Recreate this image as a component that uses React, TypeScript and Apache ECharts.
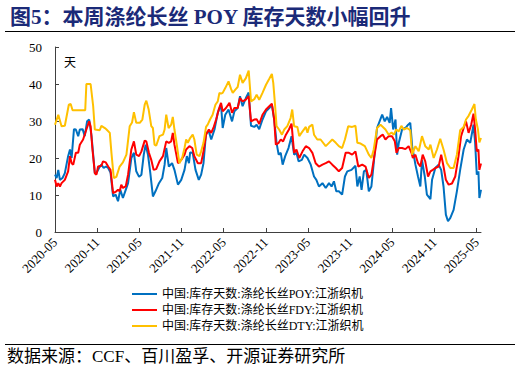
import { useEffect, useRef } from 'react';
import * as echarts from 'echarts';

const titleText = '图5：本周涤纶长丝 POY 库存天数小幅回升';
const sourceText = '数据来源：CCF、百川盈孚、开源证券研究所';
const unitText = '天';

const xTickLabels = ['2020-05', '2020-11', '2021-05', '2021-11', '2022-05', '2022-11', '2023-05', '2023-11', '2024-05', '2024-11', '2025-05'];
const yMin = 0;
const yMax = 50;
const yInterval = 10;

const seriesNames = [
  '中国:库存天数:涤纶长丝POY:江浙织机',
  '中国:库存天数:涤纶长丝FDY:江浙织机',
  '中国:库存天数:涤纶长丝DTY:江浙织机',
];
const seriesColors = ['#0070C0', '#FF0000', '#FFC000'];

const poy: [string, number][] = [
  ['2020-05-01', 15.5], ['2020-05-08', 14.6], ['2020-05-15', 16.8], ['2020-05-22', 14.1], ['2020-06-03', 14.6],
  ['2020-06-13', 15.9], ['2020-06-27', 20.5], ['2020-07-05', 22.3], ['2020-07-12', 20.0], ['2020-07-22', 27.8],
  ['2020-07-30', 27.7], ['2020-08-10', 25.9], ['2020-08-17', 27.7], ['2020-08-29', 27.8], ['2020-09-08', 25.9],
  ['2020-09-18', 29.9], ['2020-09-27', 30.4], ['2020-10-07', 25.9], ['2020-10-21', 15.9], ['2020-10-28', 15.9],
  ['2020-11-09', 17.3], ['2020-11-19', 18.2], ['2020-11-29', 17.3], ['2020-12-08', 17.7], ['2020-12-18', 17.3],
  ['2020-12-28', 16.1], ['2021-01-09', 9.6], ['2021-01-20', 10.1], ['2021-01-30', 8.3], ['2021-02-10', 11.4],
  ['2021-02-21', 9.2], ['2021-03-03', 11.4], ['2021-03-13', 13.2], ['2021-03-27', 20.0], ['2021-04-08', 21.4],
  ['2021-04-18', 16.4], ['2021-04-30', 14.9], ['2021-05-10', 15.5], ['2021-05-20', 20.9], ['2021-05-28', 23.6],
  ['2021-06-08', 20.9], ['2021-06-18', 15.9], ['2021-06-29', 9.6], ['2021-07-10', 11.0], ['2021-07-25', 13.2],
  ['2021-08-09', 14.6], ['2021-08-19', 18.2], ['2021-08-26', 22.7], ['2021-09-07', 17.7], ['2021-09-21', 18.6],
  ['2021-10-01', 16.8], ['2021-10-16', 12.8], ['2021-10-30', 14.1], ['2021-11-14', 16.8], ['2021-11-24', 20.5],
  ['2021-12-03', 18.6], ['2021-12-08', 21.5], ['2021-12-19', 21.4], ['2022-01-01', 16.8], ['2022-01-15', 14.1],
  ['2022-01-25', 15.5], ['2022-02-05', 18.6], ['2022-02-16', 26.8], ['2022-02-28', 27.2], ['2022-03-08', 25.0],
  ['2022-03-22', 27.7], ['2022-04-06', 32.2], ['2022-04-20', 34.4], ['2022-04-27', 28.1], ['2022-05-08', 31.7],
  ['2022-05-22', 33.1], ['2022-06-07', 29.9], ['2022-06-17', 32.6], ['2022-07-01', 33.5], ['2022-07-11', 36.7],
  ['2022-07-22', 34.0], ['2022-08-06', 36.2], ['2022-08-18', 37.7], ['2022-08-28', 28.7], ['2022-09-12', 28.4],
  ['2022-09-22', 29.0], ['2022-10-03', 27.8], ['2022-10-17', 30.4], ['2022-11-02', 32.6], ['2022-11-16', 33.5],
  ['2022-11-27', 34.4], ['2022-12-07', 30.4], ['2022-12-17', 24.1], ['2022-12-26', 20.9], ['2023-01-05', 21.4],
  ['2023-01-13', 18.2], ['2023-01-24', 20.5], ['2023-02-08', 22.7], ['2023-02-21', 25.9], ['2023-03-02', 20.9],
  ['2023-03-12', 21.4], ['2023-03-21', 19.1], ['2023-04-05', 19.5], ['2023-04-15', 20.9], ['2023-04-29', 20.0],
  ['2023-05-13', 18.2], ['2023-05-27', 15.0], ['2023-06-07', 14.1], ['2023-06-18', 12.3], ['2023-07-03', 13.2],
  ['2023-07-17', 11.9], ['2023-08-01', 13.2], ['2023-08-12', 12.3], ['2023-08-22', 13.7], ['2023-09-02', 11.0],
  ['2023-09-13', 11.0], ['2023-09-27', 10.1], ['2023-10-09', 15.0], ['2023-10-19', 16.4], ['2023-11-07', 16.8],
  ['2023-11-24', 17.9], ['2023-12-02', 12.3], ['2023-12-12', 15.0], ['2023-12-20', 11.4], ['2023-12-30', 16.4],
  ['2024-01-10', 16.8], ['2024-01-21', 11.0], ['2024-02-02', 12.3], ['2024-02-12', 18.6], ['2024-02-26', 28.1],
  ['2024-03-07', 29.9], ['2024-03-18', 31.7], ['2024-03-29', 29.9], ['2024-04-09', 31.1], ['2024-04-20', 29.5],
  ['2024-04-26', 33.5], ['2024-05-05', 27.7], ['2024-05-15', 30.4], ['2024-05-22', 20.9], ['2024-05-29', 24.1],
  ['2024-06-13', 27.7], ['2024-06-27', 28.1], ['2024-07-09', 29.0], ['2024-07-18', 29.5], ['2024-07-26', 23.2],
  ['2024-08-10', 18.2], ['2024-08-21', 15.0], ['2024-09-01', 12.3], ['2024-09-08', 19.5], ['2024-09-20', 15.0],
  ['2024-09-29', 10.1], ['2024-10-14', 8.9], ['2024-10-21', 14.1], ['2024-11-05', 17.3], ['2024-11-19', 18.2],
  ['2024-11-30', 16.8], ['2024-12-10', 12.3], ['2024-12-20', 4.7], ['2024-12-29', 2.9], ['2025-01-09', 3.8],
  ['2025-01-23', 6.0], ['2025-02-07', 11.0], ['2025-02-21', 16.8], ['2025-03-06', 22.3], ['2025-03-20', 25.0],
  ['2025-04-04', 24.1], ['2025-04-18', 29.0], ['2025-04-25', 24.1], ['2025-05-02', 15.5], ['2025-05-09', 16.4],
  ['2025-05-13', 9.2], ['2025-05-20', 11.4],
];

const fdy: [string, number][] = [
  ['2020-05-01', 14.1], ['2020-05-08', 12.3], ['2020-05-15', 13.2], ['2020-05-22', 12.3], ['2020-05-29', 13.2],
  ['2020-06-13', 14.1], ['2020-06-27', 16.4], ['2020-07-05', 20.5], ['2020-07-12', 18.6], ['2020-07-19', 18.2],
  ['2020-07-30', 21.4], ['2020-08-10', 21.4], ['2020-08-17', 23.6], ['2020-09-01', 25.0], ['2020-09-15', 27.7],
  ['2020-09-27', 29.9], ['2020-10-03', 28.6], ['2020-10-11', 22.3], ['2020-10-21', 15.9], ['2020-10-28', 15.5],
  ['2020-11-05', 17.7], ['2020-11-19', 17.9], ['2020-11-26', 19.1], ['2020-12-08', 18.8], ['2020-12-18', 17.7],
  ['2020-12-28', 16.8], ['2021-01-09', 10.5], ['2021-01-23', 11.0], ['2021-01-30', 11.4], ['2021-02-07', 11.0],
  ['2021-02-14', 12.8], ['2021-02-21', 11.9], ['2021-03-03', 12.3], ['2021-03-13', 15.5], ['2021-03-27', 22.3],
  ['2021-04-08', 24.5], ['2021-04-18', 20.9], ['2021-04-30', 20.5], ['2021-05-10', 21.8], ['2021-05-24', 24.7],
  ['2021-06-01', 24.5], ['2021-06-12', 21.4], ['2021-06-22', 19.5], ['2021-07-02', 16.8], ['2021-07-13', 17.0],
  ['2021-07-27', 19.1], ['2021-08-12', 20.5], ['2021-08-26', 24.5], ['2021-09-07', 24.1], ['2021-09-17', 24.5],
  ['2021-09-24', 26.8], ['2021-10-01', 23.6], ['2021-10-16', 18.6], ['2021-10-30', 19.5], ['2021-11-14', 20.9],
  ['2021-11-21', 22.3], ['2021-12-05', 23.2], ['2021-12-17', 22.7], ['2021-12-26', 20.5], ['2022-01-11', 18.6],
  ['2022-01-25', 18.6], ['2022-02-05', 21.8], ['2022-02-16', 26.3], ['2022-02-28', 27.7], ['2022-03-08', 26.8],
  ['2022-03-19', 28.4], ['2022-03-29', 30.4], ['2022-04-10', 33.1], ['2022-04-20', 34.9], ['2022-04-27', 32.6],
  ['2022-05-11', 33.5], ['2022-05-26', 34.9], ['2022-06-07', 32.2], ['2022-06-17', 33.5], ['2022-07-01', 33.5],
  ['2022-07-11', 36.2], ['2022-07-22', 35.3], ['2022-08-06', 35.8], ['2022-08-18', 36.7], ['2022-08-28', 29.9],
  ['2022-09-12', 30.4], ['2022-09-22', 30.5], ['2022-10-03', 29.2], ['2022-10-17', 31.7], ['2022-11-02', 33.1],
  ['2022-11-16', 34.0], ['2022-11-27', 34.7], ['2022-12-07', 30.4], ['2022-12-14', 23.6], ['2022-12-26', 24.1],
  ['2023-01-05', 25.0], ['2023-01-15', 24.5], ['2023-01-27', 26.3], ['2023-02-10', 27.7], ['2023-02-21', 29.3],
  ['2023-03-02', 21.4], ['2023-03-12', 22.3], ['2023-03-24', 20.0], ['2023-04-08', 21.8], ['2023-04-22', 23.2],
  ['2023-05-06', 22.7], ['2023-05-20', 21.4], ['2023-06-04', 18.6], ['2023-06-18', 17.7], ['2023-07-03', 18.2],
  ['2023-07-17', 18.6], ['2023-08-01', 19.1], ['2023-08-15', 18.2], ['2023-08-30', 17.3], ['2023-09-13', 16.4],
  ['2023-09-27', 17.3], ['2023-10-12', 21.4], ['2023-10-26', 21.4], ['2023-11-10', 20.9], ['2023-11-24', 21.8],
  ['2023-12-06', 17.7], ['2023-12-23', 18.2], ['2024-01-07', 17.7], ['2024-01-21', 14.6], ['2024-02-02', 15.5],
  ['2024-02-12', 19.5], ['2024-02-26', 25.0], ['2024-03-11', 25.9], ['2024-03-21', 26.3], ['2024-04-02', 25.0],
  ['2024-04-16', 25.9], ['2024-04-30', 25.9], ['2024-05-12', 24.5], ['2024-05-19', 21.4], ['2024-05-29', 22.7],
  ['2024-06-13', 22.7], ['2024-06-27', 22.4], ['2024-07-11', 23.2], ['2024-07-23', 21.4], ['2024-07-29', 20.0],
  ['2024-08-10', 20.9], ['2024-08-21', 18.6], ['2024-09-01', 17.7], ['2024-09-11', 20.9], ['2024-09-22', 19.1],
  ['2024-10-04', 15.0], ['2024-10-14', 16.4], ['2024-10-24', 16.8], ['2024-11-05', 17.3], ['2024-11-19', 17.7],
  ['2024-11-30', 20.9], ['2024-12-10', 17.7], ['2024-12-20', 14.1], ['2025-01-02', 12.8], ['2025-01-16', 13.1],
  ['2025-01-30', 15.0], ['2025-02-14', 20.5], ['2025-02-25', 25.9], ['2025-03-06', 28.1], ['2025-03-16', 29.9],
  ['2025-03-27', 26.8], ['2025-04-08', 29.0], ['2025-04-18', 32.0], ['2025-04-25', 27.7], ['2025-05-02', 21.8],
  ['2025-05-09', 22.3], ['2025-05-13', 16.8], ['2025-05-20', 18.5],
];

const dty: [string, number][] = [
  ['2020-05-01', 29.0], ['2020-05-15', 31.7], ['2020-05-29', 28.6], ['2020-06-13', 28.7], ['2020-06-30', 34.4],
  ['2020-07-08', 34.6], ['2020-07-16', 32.9], ['2020-09-01', 32.9], ['2020-09-10', 32.9], ['2020-09-15', 40.0],
  ['2020-10-03', 40.0], ['2020-10-14', 34.0], ['2020-10-21', 27.7], ['2020-11-12', 27.5], ['2020-11-19', 28.7],
  ['2020-12-04', 28.1], ['2020-12-11', 27.7], ['2020-12-25', 26.8], ['2021-01-02', 21.4], ['2021-01-12', 14.6],
  ['2021-01-23', 14.9], ['2021-02-07', 17.7], ['2021-02-21', 18.8], ['2021-03-06', 20.9], ['2021-03-20', 28.6],
  ['2021-03-30', 29.6], ['2021-04-08', 32.4], ['2021-04-18', 29.5], ['2021-05-03', 29.5], ['2021-05-14', 30.4],
  ['2021-05-24', 34.4], ['2021-06-01', 35.5], ['2021-06-11', 33.1], ['2021-06-22', 28.6], ['2021-06-29', 28.1],
  ['2021-07-06', 23.6], ['2021-07-13', 23.3], ['2021-07-27', 25.9], ['2021-08-12', 26.3], ['2021-08-19', 27.7],
  ['2021-08-26', 31.7], ['2021-09-06', 28.1], ['2021-09-17', 29.0], ['2021-09-24', 31.1], ['2021-10-01', 27.7],
  ['2021-10-11', 23.6], ['2021-10-22', 18.6], ['2021-11-04', 20.0], ['2021-11-14', 22.7], ['2021-11-21', 25.0],
  ['2021-11-28', 24.1], ['2021-12-08', 25.4], ['2021-12-19', 26.3], ['2021-12-26', 25.0], ['2022-01-06', 20.9],
  ['2022-01-18', 20.5], ['2022-01-25', 21.8], ['2022-02-05', 24.1], ['2022-02-16', 28.4], ['2022-02-23', 29.0],
  ['2022-03-03', 30.4], ['2022-03-14', 31.7], ['2022-03-26', 34.4], ['2022-04-06', 35.3], ['2022-04-13', 37.6],
  ['2022-04-20', 37.4], ['2022-04-27', 37.6], ['2022-05-08', 38.9], ['2022-05-22', 40.7], ['2022-06-03', 38.6],
  ['2022-06-10', 37.6], ['2022-06-21', 38.5], ['2022-07-01', 39.2], ['2022-07-11', 42.5], ['2022-07-22', 40.3],
  ['2022-08-06', 41.6], ['2022-08-18', 43.6], ['2022-08-28', 35.3], ['2022-09-12', 35.9], ['2022-09-22', 37.1],
  ['2022-10-03', 35.7], ['2022-10-17', 37.6], ['2022-11-02', 39.8], ['2022-11-16', 41.4], ['2022-11-27', 42.7],
  ['2022-12-03', 40.3], ['2022-12-11', 34.0], ['2022-12-17', 28.6], ['2022-12-28', 27.7], ['2023-01-10', 26.3],
  ['2023-01-20', 27.7], ['2023-02-03', 28.6], ['2023-02-17', 30.8], ['2023-02-24', 33.1], ['2023-03-02', 28.6],
  ['2023-03-16', 28.4], ['2023-03-24', 25.9], ['2023-04-08', 27.2], ['2023-04-22', 28.4], ['2023-04-29', 26.8],
  ['2023-05-06', 28.4], ['2023-05-20', 29.0], ['2023-05-27', 26.3], ['2023-06-11', 25.0], ['2023-06-25', 25.0],
  ['2023-07-17', 23.2], ['2023-08-01', 24.1], ['2023-08-15', 25.0], ['2023-08-30', 24.1], ['2023-09-13', 23.2],
  ['2023-09-27', 22.7], ['2023-10-09', 25.0], ['2023-10-23', 28.6], ['2023-11-10', 28.4], ['2023-11-24', 28.7],
  ['2023-12-02', 24.1], ['2023-12-16', 23.9], ['2024-01-04', 23.2], ['2024-01-21', 20.9], ['2024-02-02', 20.0],
  ['2024-02-12', 22.3], ['2024-02-26', 28.1], ['2024-03-11', 29.0], ['2024-03-21', 28.4], ['2024-04-02', 27.7],
  ['2024-04-16', 26.3], ['2024-04-28', 26.9], ['2024-05-08', 26.3], ['2024-05-18', 27.7], ['2024-05-29', 27.2],
  ['2024-06-10', 28.7], ['2024-06-20', 27.7], ['2024-07-04', 28.1], ['2024-07-18', 27.5], ['2024-07-26', 20.9],
  ['2024-08-10', 23.2], ['2024-08-24', 21.8], ['2024-09-08', 25.9], ['2024-09-22', 23.2], ['2024-10-07', 22.3],
  ['2024-10-14', 23.6], ['2024-10-28', 20.0], ['2024-11-12', 22.3], ['2024-11-26', 25.2], ['2024-12-10', 22.3],
  ['2024-12-25', 18.6], ['2025-01-09', 17.3], ['2025-01-23', 17.3], ['2025-02-07', 20.9], ['2025-02-21', 27.5],
  ['2025-03-06', 28.4], ['2025-03-16', 30.4], ['2025-03-27', 31.4], ['2025-04-11', 33.1], ['2025-04-22', 34.6],
  ['2025-04-28', 30.4], ['2025-05-07', 27.7], ['2025-05-13', 24.2], ['2025-05-20', 25.4],
];

// months elapsed since the first tick month (2020-05)
function monthsSinceStart(date: string): number {
  const [y, m, d] = date.split('-').map(Number);
  return (y - 2020) * 12 + (m - 5) + ((d || 1) - 1) / 30;
}

const SERIF = '"Liberation Serif", "Times New Roman", "Noto Sans CJK SC", serif';
const LEGEND_FONT = '"Liberation Serif", "Noto Sans CJK SC", serif';

export default function App() {
  const ref = useRef<HTMLDivElement>(null);

  useEffect(() => {
    if (!ref.current) return;
    const chart = echarts.init(ref.current, undefined, { renderer: 'svg' });
    const tickValues = xTickLabels.map((l) => monthsSinceStart(l + '-01'));
    const allSeries = [poy, fdy, dty];
    const lastX = Math.max(...allSeries.map((s) => monthsSinceStart(s[s.length - 1][0])));

    const option: any = {
      animation: false,
      backgroundColor: '#ffffff',
      title: {
        text: titleText,
        left: 5,
        top: 1,
        textStyle: {
          fontSize: 21,
          fontWeight: 'bold',
          color: '#1B2A78',
          fontFamily: SERIF,
        },
      },
      graphic: [
        { type: 'line', shape: { x1: 5, y1: 31.5, x2: 515, y2: 31.5 }, style: { stroke: '#000', lineWidth: 1 } },
        { type: 'line', shape: { x1: 5, y1: 344.5, x2: 515, y2: 344.5 }, style: { stroke: '#000', lineWidth: 1 } },
        {
          type: 'text',
          left: 7,
          top: 348,
          style: { text: sourceText, fontSize: 17, fill: '#000', fontFamily: SERIF },
        },
        {
          type: 'text',
          x: 70,
          y: 63,
          style: { text: unitText, fontSize: 12, fill: '#000', fontFamily: SERIF, align: 'center', verticalAlign: 'middle' },
        },
      ],
      legend: {
        orient: 'vertical',
        left: 127,
        top: 283,
        itemWidth: 25,
        itemHeight: 2,
        itemGap: 4,
        icon: 'rect',
        data: seriesNames,
        textStyle: { fontSize: 12, color: '#000', fontFamily: LEGEND_FONT },
      },
      grid: { left: 55, right: 40, top: 47, bottom: 142, containLabel: false, outerBoundsMode: 'none' },
      xAxis: {
        type: 'value',
        min: 0,
        max: lastX,
        splitLine: { show: false },
        axisLine: { lineStyle: { color: '#404040', width: 1 } },
        axisTick: { show: true, inside: true, length: 4, customValues: tickValues, lineStyle: { color: '#404040' } },
        axisLabel: {
          customValues: tickValues,
          rotate: 45,
          margin: 8,
          fontSize: 13,
          color: '#000',
          fontFamily: SERIF,
          formatter: (v: number) => {
            const i = tickValues.findIndex((t) => Math.abs(t - v) < 0.01);
            return i >= 0 ? xTickLabels[i] : '';
          },
        },
      },
      yAxis: {
        type: 'value',
        min: yMin,
        max: yMax,
        interval: yInterval,
        splitLine: { show: false },
        axisLine: { show: true, lineStyle: { color: '#404040', width: 1 } },
        axisTick: { show: true, inside: true, length: 4, lineStyle: { color: '#404040' } },
        axisLabel: { fontSize: 13, color: '#000', margin: 13, fontFamily: SERIF },
      },
      series: allSeries.map((s, i) => ({
        name: seriesNames[i],
        type: 'line',
        data: s.map(([d, v]) => [monthsSinceStart(d), v]),
        symbol: 'none',
        lineStyle: { width: 2, color: seriesColors[i] },
        itemStyle: { color: seriesColors[i] },
      })),
    };
    chart.setOption(option);
    return () => chart.dispose();
  }, []);

  return (
    <div
      ref={ref}
      style={{ position: 'fixed', left: 0, top: 0, width: 521, height: 374, background: '#fff' }}
    />
  );
}
